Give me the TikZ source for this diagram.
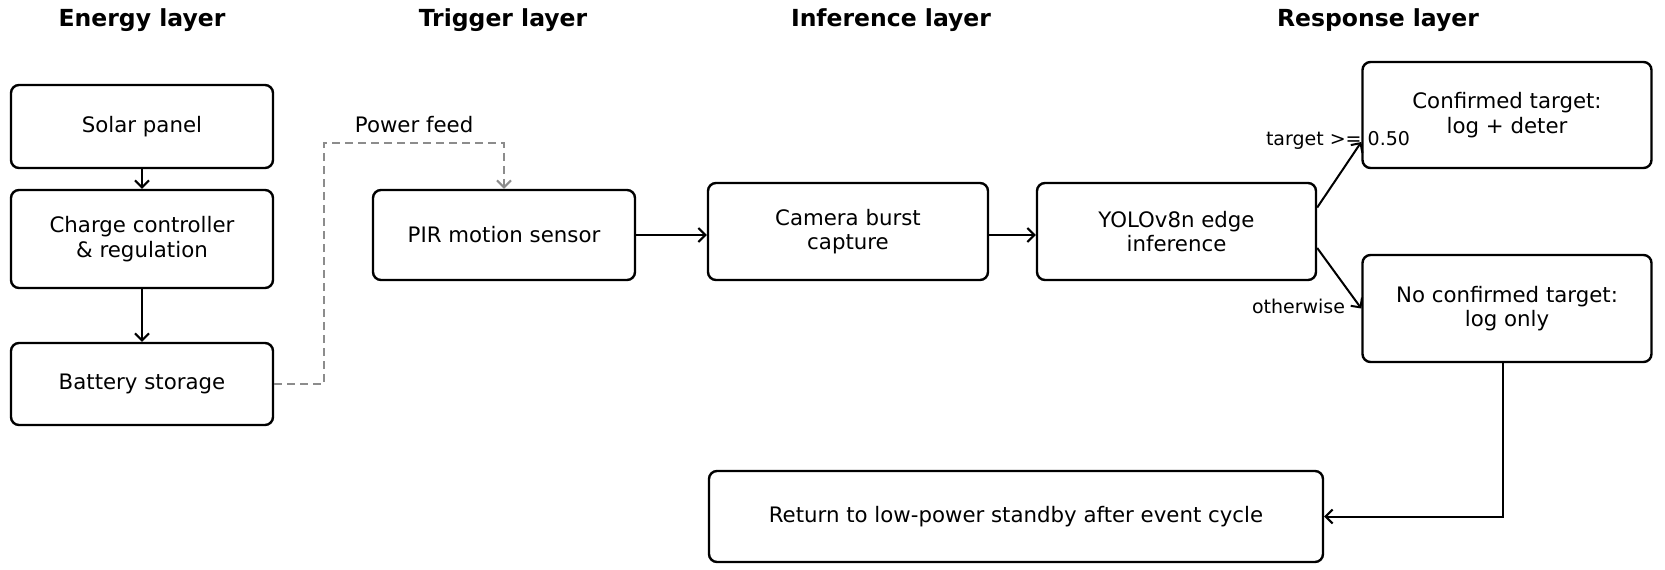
\documentclass[tikz,border=0pt]{standalone}
\usepackage{fontspec}
\setmainfont{DejaVu Sans}
\usetikzlibrary{arrows.meta}
\definecolor{feedgray}{HTML}{8C8C8C}

\begin{document}
\begin{tikzpicture}[
  x=1pt, y=-1pt,
  box/.style={draw, line width=2.4pt, rounded corners=8pt, align=center, inner sep=0pt,
    font=\fontsize{21.3}{24.5}\selectfont},
  layertitle/.style={font=\fontsize{23.5}{26}\selectfont\bfseries, inner sep=0pt},
  note/.style={font=\fontsize{19}{22}\selectfont, inner sep=0pt},
  flow/.style={line width=2pt, -{Straight Barb[length=7pt,width=14pt,line width=2pt]}},
  feed/.style={line width=2pt, dashed, dash pattern=on 8pt off 5pt, draw=feedgray,
    -{Straight Barb[length=7pt,width=14pt,line width=2pt]}},
]
\useasboundingbox (0,0) rectangle (1665,570);

% layer titles
\node[layertitle] (t1) at (142,20)  {Energy layer};
\node[layertitle] (t2) at (503,20)  {Trigger layer};
\node[layertitle] (t3) at (891,20)  {Inference layer};
\node[layertitle] (t4) at (1378,20) {Response layer};

% energy layer
\node[box, minimum width=262pt, minimum height=83pt] (solar)   at (142,126.5) {Solar panel};
\node[box, minimum width=262pt, minimum height=98pt] (charge)  at (142,239)   {Charge controller\\ \& regulation};
\node[box, minimum width=262pt, minimum height=82pt] (battery) at (142,384)   {Battery storage};

% trigger + inference
\node[box, minimum width=262pt, minimum height=90pt] (pir)    at (504,235)    {PIR motion sensor};
\node[box, minimum width=280pt, minimum height=97pt] (camera) at (848,231.5)  {Camera burst\\ capture};
\node[box, minimum width=279pt, minimum height=97pt] (yolo)   at (1176.5,231.5) {YOLOv8n edge\\ inference};

% response layer
\node[box, minimum width=289pt, minimum height=106pt] (hit)  at (1507,115)   {Confirmed target:\\ log + deter};
\node[box, minimum width=289pt, minimum height=107pt] (miss) at (1507,308.5) {No confirmed target:\\ log only};
\node[box, minimum width=614pt, minimum height=91pt]  (idle) at (1016,516.5) {Return to low-power standby after event cycle};

\draw[flow] (solar) -- (charge);
\draw[flow] (charge) -- (battery);
\draw[feed] (battery.east) -- ++(50,0) |- ([yshift=46pt]pir.north)
  node[pos=0.75, above=9pt, note, text=black, font=\fontsize{21.3}{24.5}\selectfont] (pf) {Power feed} -- (pir.north);
\draw[flow] (pir.east) -- (pir.east -| camera.west);
\draw[flow] (pir.east -| camera.east) -- (pir.east -| yolo.west);
\draw[flow] ([yshift=24pt]yolo.east) -- ([yshift=-27pt]hit.west);
\draw[flow] ([yshift=-16.5pt]yolo.east) -- (miss.west);
\draw[flow] ([xshift=-4pt]miss.south) |- (idle.east);

\node[note] (thr) at (1338,140) {target >= 0.50};
\node[note] (oth) at (1298.5,306) {otherwise};
\end{tikzpicture}
\end{document}
